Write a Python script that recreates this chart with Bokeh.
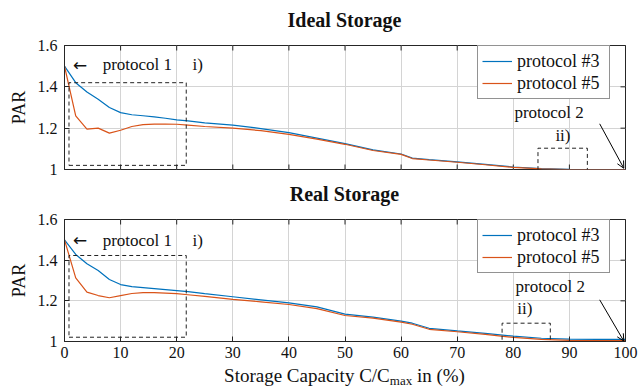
import math
from bokeh.plotting import figure
from bokeh.layouts import column
from bokeh.models import (Range1d, LinearAxis, FixedTicker, Grid, Label, Arrow,
                          OpenHead, Legend, LegendItem, PolyAnnotation, Div)
from bokeh.embed import file_html
from bokeh.resources import INLINE

# ---------------- data ----------------
capacity = [0, 2, 4, 6, 8, 10, 12, 14, 16, 18, 20, 22, 25, 30, 35, 40, 45,
            50, 55, 60, 62, 65, 70, 75, 80, 85, 90, 95, 100]

ideal_p3 = [1.50, 1.42, 1.375, 1.34, 1.30, 1.275, 1.265, 1.26, 1.255, 1.248,
            1.24, 1.235, 1.226, 1.215, 1.198, 1.178, 1.152, 1.125, 1.095,
            1.075, 1.055, 1.048, 1.037, 1.025, 1.012, 1.004, 1.001, 1.0, 1.0]
ideal_p5 = [1.50, 1.26, 1.195, 1.20, 1.176, 1.19, 1.208, 1.217, 1.22, 1.22,
            1.219, 1.215, 1.208, 1.20, 1.188, 1.17, 1.147, 1.122, 1.092,
            1.073, 1.053, 1.046, 1.035, 1.023, 1.01, 1.003, 1.0, 1.0, 1.0]

real_p3 = [1.50, 1.428, 1.382, 1.349, 1.305, 1.28, 1.27, 1.265, 1.26, 1.255,
           1.25, 1.245, 1.235, 1.22, 1.205, 1.19, 1.17, 1.135, 1.12, 1.10,
           1.09, 1.065, 1.052, 1.04, 1.026, 1.016, 1.012, 1.01, 1.01]
real_p5 = [1.50, 1.313, 1.243, 1.226, 1.215, 1.226, 1.236, 1.24, 1.24, 1.238,
           1.235, 1.23, 1.222, 1.207, 1.195, 1.182, 1.162, 1.128, 1.115,
           1.095, 1.085, 1.06, 1.048, 1.035, 1.02, 1.01, 1.006, 1.005, 1.005]

x_ticks = [0, 10, 20, 30, 40, 50, 60, 70, 80, 90, 100]
y_ticks = [1.0, 1.2, 1.4, 1.6]
y_tick_labels = ["1", "1.2", "1.4", "1.6"]
series_labels = ["protocol #3", "protocol #5"]
titles = ["Ideal Storage", "Real Storage"]

FONT = "Liberation Serif"
BLUE = "#0072BD"
ORANGE = "#D95319"
DARK = "#262626"
GRID = "#d4d4d4"
TXT = "#111111"


def make_panel(y3, y5, height, top_b, bottom_b, show_x_axis, ann):
    p = figure(width=638, height=height, output_backend="svg",
               toolbar_location=None, x_range=Range1d(0, 100),
               y_range=Range1d(1, 1.6), x_axis_location=None,
               y_axis_location=None, min_border_left=64, min_border_right=13,
               min_border_top=top_b, min_border_bottom=bottom_b)
    p.title = None
    for g in p.grid:
        g.visible = False
    p.background_fill_color = "white"
    p.border_fill_color = "white"
    p.outline_line_color = DARK
    p.outline_line_width = 1

    xt = FixedTicker(ticks=x_ticks)
    yt = FixedTicker(ticks=y_ticks)

    p.add_layout(Grid(dimension=0, ticker=xt, grid_line_color=GRID,
                      grid_line_width=1), "center")
    p.add_layout(Grid(dimension=1, ticker=yt, grid_line_color=GRID,
                      grid_line_width=1), "center")

    common = dict(major_tick_in=5, major_tick_out=0,
                  minor_tick_line_color=None, axis_line_color=DARK,
                  major_tick_line_color=DARK, major_label_text_font=FONT,
                  major_label_text_color=TXT)

    left = LinearAxis(ticker=yt, major_label_text_font_size="16px",
                      major_label_standoff=7, axis_label="PAR",
                      axis_label_text_font=FONT,
                      axis_label_text_font_size="18px",
                      axis_label_text_font_style="normal",
                      axis_label_text_color=TXT,
                      axis_label_standoff=6,
                      major_label_overrides={t: l for t, l in
                                             zip(y_ticks, y_tick_labels)},
                      **common)
    p.add_layout(left, "left")

    if show_x_axis:
        bottom = LinearAxis(ticker=xt, major_label_text_font_size="16px",
                            major_label_standoff=5, **common)
        p.add_layout(bottom, "below")
    else:
        # inner tick marks along the bottom edge (clipped to frame -> inward)
        p.scatter(x_ticks, [y_ticks[0]] * len(x_ticks), marker="dash",
                  size=10, angle=math.pi / 2, line_color=DARK, line_width=1)

    # inner tick marks along the right and top edges
    p.scatter([100] * len(y_ticks), y_ticks, marker="dash", size=10,
              line_color=DARK, line_width=1)
    p.scatter(x_ticks, [y_ticks[-1]] * len(x_ticks), marker="dash", size=10,
              angle=math.pi / 2, line_color=DARK, line_width=1)

    r3 = p.line(capacity, y3, line_color=BLUE, line_width=1.2)
    r5 = p.line(capacity, y5, line_color=ORANGE, line_width=1.2)

    legend = Legend(items=[LegendItem(label=series_labels[0], renderers=[r3]),
                           LegendItem(label=series_labels[1], renderers=[r5])],
                    location=ann["legend_loc"], margin=0, padding=4,
                    spacing=0, label_height=22, glyph_height=22,
                    glyph_width=30, label_standoff=5, label_width=88,
                    label_text_font=FONT, label_text_font_size="18px",
                    label_text_color=TXT,
                    border_line_color=DARK, border_line_width=1,
                    background_fill_color="white", background_fill_alpha=1)
    p.add_layout(legend, "center")

    # dashed zoom boxes
    for (l, r, b, t) in ann["boxes"]:
        p.add_layout(PolyAnnotation(xs=[l, r, r, l], ys=[b, b, t, t],
                                    fill_alpha=0, line_color="#222222",
                                    line_alpha=1, line_dash="4 3",
                                    line_width=1))

    lab = dict(text_font=FONT, text_font_size="17px", text_color=TXT,
               text_baseline="middle")
    for (x, y, txt) in ann["labels"]:
        p.add_layout(Label(x=x, y=y, text=txt, **lab))
    ax, ay = ann["arrow_char"]
    p.add_layout(Label(x=ax, y=ay, text="\u2190", text_font="DejaVu Sans",
                       text_font_size="17px", text_color=TXT,
                       text_baseline="middle"))

    (xs, ys, xe, ye) = ann["arrow"]
    p.add_layout(Arrow(x_start=xs, y_start=ys, x_end=xe, y_end=ye,
                       line_color="black", line_width=1,
                       end=OpenHead(size=7, line_color="black",
                                    line_width=1)))
    return p


def html_text(inner, height, line_h, pad_top, size, bold=False):
    weight = "bold" if bold else "normal"
    return Div(
        text=("<div style=\"font-family:'Liberation Serif';font-size:%dpx;"
              "font-weight:%s;line-height:%dpx;padding-top:%dpx;"
              "color:#111111;text-align:center;box-sizing:border-box;"
              "width:638px;padding-left:51px;white-space:nowrap;"
              "margin:0;\">%s</div>")
        % (size, weight, line_h, pad_top, inner),
        width=638, height=height, margin=0)


ann_top = dict(
    legend_loc=(413, 70),
    boxes=[(0.8, 21.7, 1.02, 1.42), (84.4, 93.2, 0.99, 1.103)],
    arrow_char=(1.5, 1.508),
    labels=[(6.8, 1.508, "protocol 1"), (22.8, 1.508, "i)"),
            (80.2, 1.277, "protocol 2"), (87.5, 1.164, "ii)")],
    arrow=(95.4, 1.221, 99.7, 1.006),
)
ann_bot = dict(
    legend_loc=(413, 68),
    boxes=[(0.8, 21.7, 1.021, 1.423), (78.0, 86.6, 0.972, 1.09)],
    arrow_char=(1.5, 1.497),
    labels=[(6.8, 1.497, "protocol 1"), (22.8, 1.497, "i)"),
            (80.4, 1.27, "protocol 2"), (80.7, 1.162, "ii)")],
    arrow=(95.4, 1.205, 99.7, 1.002),
)

# page rows: title 0-34, panel 34-181 (frame 45-169), title 181-207,
# panel 207-365 (frame 219-341), x label 365-389
t1 = html_text(titles[0], 34, 30, 5, 20, bold=True)
p1 = make_panel(ideal_p3, ideal_p5, 147, 11, 12, False, ann_top)
t2 = html_text(titles[1], 26, 26, 0, 20, bold=True)
p2 = make_panel(real_p3, real_p5, 158, 12, 24, True, ann_bot)
xlabel = html_text(
    "Storage Capacity C/C<sub style=\"font-size:13px;line-height:0;"
    "vertical-align:-3px;\">max</sub> in (%)", 24, 22, 0, 19)

layout = column(t1, p1, t2, p2, xlabel, spacing=0)
open("out.html", "w").write(file_html(layout, INLINE))
